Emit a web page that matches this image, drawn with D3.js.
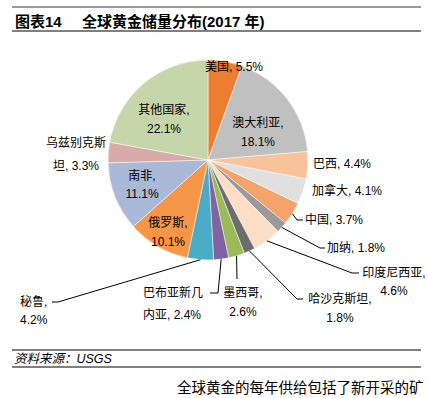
<!DOCTYPE html>
<html><head><meta charset="utf-8">
<script src="https://cdn.jsdelivr.net/npm/d3@7"></script>
<style>
html,body{margin:0;padding:0;background:#fff;overflow:hidden;}
text{font-family:"Liberation Sans","Noto Sans CJK SC",sans-serif;fill:#000;}
</style></head>
<body>
<svg id="chart" width="428" height="398"></svg>
<script>
// ---- data ----
const countries = ["美国","澳大利亚","巴西","加拿大","中国","加纳","印度尼西亚","哈沙克斯坦","墨西哥","巴布亚新几内亚","秘鲁","俄罗斯","南非","乌兹别克斯坦","其他国家"];
const shares = [5.5,18.1,4.4,4.1,3.7,1.8,4.6,1.8,2.6,2.4,4.2,10.1,11.1,3.3,22.1];
const colors = ["#ED7D31","#C0C0C0","#F8C39B","#E0E0E0","#F4A46A","#9A9A9A","#FCDDC5","#6D6D6D","#9BBB59","#8064A2","#4BACC6","#F79646","#AAB9D7","#D9AAAA","#C6D6AB"];
const titleLeft = "图表14";
const titleRight = "全球黄金储量分布(2017 年)";
const sourceText = "资料来源：USGS";
const bodyText = "全球黄金的每年供给包括了新开采的矿";

// ---- label layout (positions only) ----
// br: character index to break the label string; gap: line spacing
const layout = {
  "美国":        {x:234, y:67,  anchor:"middle"},
  "澳大利亚":    {x:258, y:123, anchor:"middle", br:5, gap:19},
  "巴西":        {x:313, y:164, anchor:"start"},
  "加拿大":      {x:312, y:191, anchor:"start"},
  "中国":        {x:305, y:220, anchor:"start", leader:[[297,220],[303,220]]},
  "加纳":        {x:327, y:248, anchor:"start", leader:[[320,248],[325,248]]},
  "印度尼西亚":  {x:394, y:273, anchor:"middle", br:6, gap:18, leader:[[352,273],[359,273]]},
  "哈沙克斯坦":  {x:340, y:299, anchor:"middle", br:6, gap:19, leader:[[297,299],[303,299]]},
  "墨西哥":      {x:243, y:293, anchor:"middle", br:4, gap:19, leader:[[237,279]]},
  "巴布亚新几内亚":{x:143, y:293, anchor:"start", br:5, gap:22, leader:[[218,293],[210,293]]},
  "秘鲁":        {x:20,  y:302, anchor:"start", br:3, gap:18, leader:[[58,302],[52,302]]},
  "俄罗斯":      {x:168, y:223, anchor:"middle", br:4, gap:19},
  "南非":        {x:142, y:176, anchor:"middle", br:3, gap:18},
  "乌兹别克斯坦":{x:76,  y:143, anchor:"middle", br:5, gap:23},
  "其他国家":    {x:164, y:110, anchor:"middle", br:5, gap:19}
};

const svg = d3.select("#chart");

// header
svg.append("line").attr("x1",12).attr("x2",421).attr("y1",7).attr("y2",7)
  .attr("stroke","#999").attr("stroke-width",2);
svg.append("line").attr("x1",12).attr("x2",421).attr("y1",31).attr("y2",31)
  .attr("stroke","#000").attr("stroke-width",1);
svg.append("text").attr("x",15).attr("y",27).attr("font-size",15).attr("font-weight","bold").text(titleLeft);
svg.append("text").attr("x",82).attr("y",27).attr("font-size",15).attr("font-weight","bold").text(titleRight);

// pie
const cx = 208, cy = 160, R = 100;
const data = countries.map((c,i)=>({name:c, value:shares[i], color:colors[i]}));
const pie = d3.pie().value(d=>d.value).sort(null).startAngle(0).endAngle(2*Math.PI);
const arcs = pie(data);
const arc = d3.arc().innerRadius(0).outerRadius(R);
const g = svg.append("g").attr("transform",`translate(${cx},${cy})`);
g.selectAll("path").data(arcs).join("path")
  .attr("d",arc).attr("fill",d=>d.data.color)
  .attr("stroke","#fff").attr("stroke-width",0.5);

// labels + leaders
arcs.forEach(a=>{
  const L = layout[a.data.name];
  const full = `${a.data.name}, ${a.data.value}%`;
  if (L.leader){
    const mid = (a.startAngle+a.endAngle)/2;
    const p0 = [cx + R*Math.sin(mid), cy - R*Math.cos(mid)];
    const pts = [p0].concat(L.leader);
    svg.append("path").attr("d", d3.line()(pts))
      .attr("fill","none").attr("stroke","#000").attr("stroke-width",1);
  }
  const lines = L.br ? [full.slice(0,L.br).trim(), full.slice(L.br).trim()] : [full];
  lines.forEach((t,k)=>{
    svg.append("text").attr("x",L.x).attr("y",L.y + k*(L.gap||0))
      .attr("text-anchor",L.anchor).attr("dominant-baseline","central")
      .attr("font-size",12).text(t);
  });
});

// footer
svg.append("line").attr("x1",12).attr("x2",421).attr("y1",350).attr("y2",350).attr("stroke","#000").attr("stroke-width",1);
svg.append("line").attr("x1",12).attr("x2",421).attr("y1",367).attr("y2",367).attr("stroke","#000").attr("stroke-width",1);
svg.append("text").attr("x",14).attr("y",363).attr("font-size",12.5).attr("font-style","italic").text(sourceText);
svg.append("text").attr("x",177).attr("y",393).attr("font-size",14.5).text(bodyText);
</script>
</body></html>
